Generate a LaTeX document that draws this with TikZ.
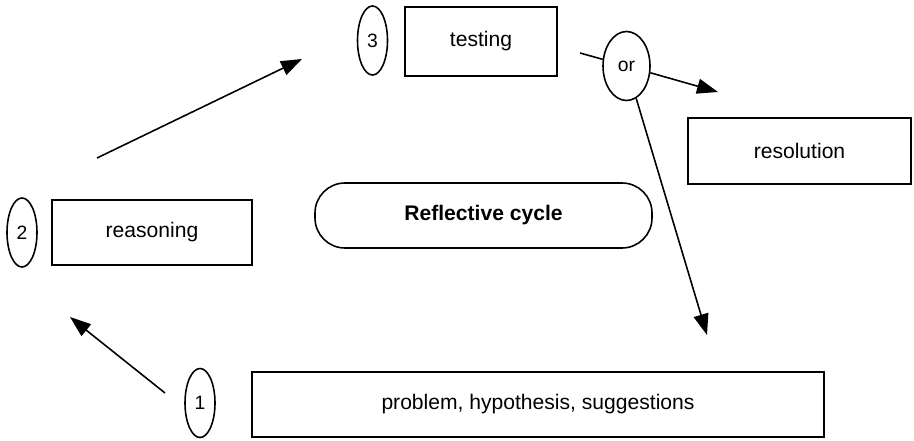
\documentclass[tikz,border=0pt]{standalone}
\usepackage{fontspec}
\setmainfont{Liberation Sans}
\usetikzlibrary{arrows.meta,shapes.geometric}

\begin{document}
\begin{tikzpicture}[line width=0.9pt,
    box/.style={draw,minimum height=1.32cm,font=\fontsize{12}{14}\selectfont},
    numoval/.style={draw,ellipse,inner sep=0pt,minimum width=0.6cm,minimum height=1.38cm,font=\fontsize{11}{13}\selectfont},
    arr/.style={-{Triangle[length=0.42cm,width=0.3cm]}}]
    \useasboundingbox (0,0) rectangle (18.28,8.8);
    \node[box,minimum width=3.04cm,minimum height=1.38cm] (test) at (9.62,7.97) {testing};
    \node[box,minimum width=4.0cm,minimum height=1.30cm] (reason) at (3.04,4.15) {reasoning};
    \node[box,minimum width=4.46cm] (res) at (15.99,5.78) {resolution};
    \node[box,minimum width=11.44cm,minimum height=1.30cm] (prob) at (10.76,0.71) {problem, hypothesis, suggestions};
    \node[draw,rounded corners=0.6cm,minimum width=6.74cm,minimum height=1.30cm,font=\fontsize{12}{14}\selectfont\bfseries] (cycle) at (9.67,4.49) {Reflective cycle};
    \foreach \n/\pos in {1/{4.0,0.74},2/{0.44,4.15},3/{7.45,7.99}}
      \node[numoval] (e\n) at (\pos) {\n};
    \node[numoval,minimum width=0.94cm] (or) at (12.53,7.48) {or};
    \coordinate (a1) at (3.30,0.94); \coordinate (a2) at (1.40,2.46);
    \coordinate (b1) at (1.94,5.64); \coordinate (b2) at (6.04,7.62);
    \coordinate (c0) at (11.60,7.74);
    \coordinate (d1) at (14.36,6.96); \coordinate (d2) at (14.14,2.10);
    \draw[arr] (a1) -- (a2);
    \draw[arr] (b1) -- (b2);
    \draw (c0) -- (or);
    \draw[arr] (or) -- (d1);
    \draw[arr] (or) -- (d2);
\end{tikzpicture}
\end{document}
